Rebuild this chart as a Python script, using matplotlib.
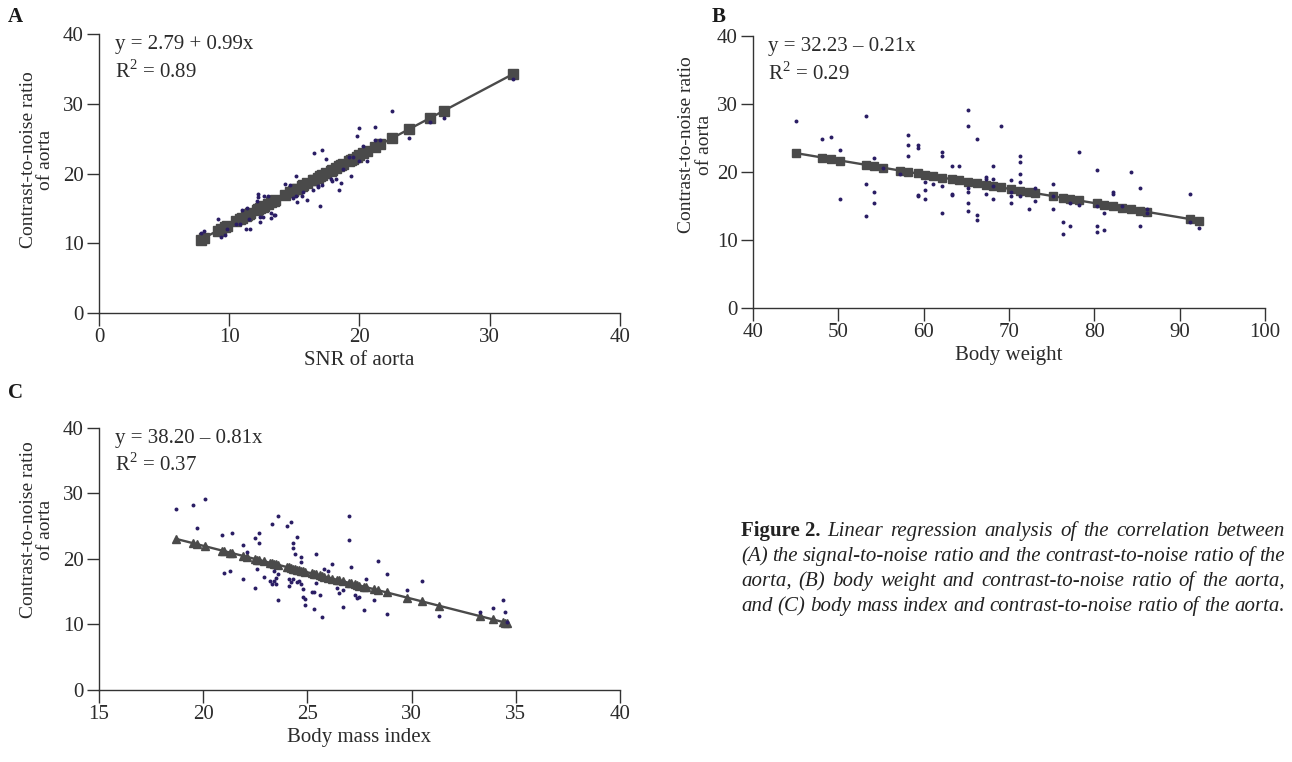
import numpy as np
import matplotlib.pyplot as plt

plt.rcParams['font.family'] = ['Liberation Serif', 'DejaVu Serif']
plt.rcParams['mathtext.fontset'] = 'custom'
plt.rcParams['mathtext.rm'] = 'Liberation Serif'

# ---------------------------------------------------------------
# Data
# ---------------------------------------------------------------
# (A) SNR of aorta vs CNR of aorta
snr_a = [7.8, 8.1, 9.1, 9.4, 9.7, 9.8, 10.5, 10.8, 11.0, 11.3, 11.6, 11.4, 11.5,
         12.2, 12.2, 12.1, 12.4, 12.4, 12.6, 12.7, 13.0, 13.2, 13.4, 13.5, 13.2,
         14.3, 14.7, 15.1, 14.9, 15.1, 15.2, 15.6, 15.7, 16.0, 16.4, 16.8, 17.1,
         16.8, 16.5, 17.1, 17.45, 17.0, 17.8, 17.9, 18.2, 18.6, 18.4, 18.7, 19.35,
         19.2, 19.5, 20.0, 20.6, 19.8, 20.0, 21.2, 21.2, 21.6, 20.3, 22.5, 23.8,
         25.4, 26.5, 31.8]
cnr_a = [11.5, 11.8, 13.5, 10.9, 11.2, 12.0, 12.7, 12.7, 14.7, 12.0, 12.0, 15.0, 13.5,
         17.1, 16.7, 16.0, 13.0, 13.8, 13.8, 16.8, 16.8, 14.4, 14.1, 14.1, 13.6,
         18.5, 18.3, 19.7, 16.5, 16.8, 15.9, 16.8, 17.3, 16.2, 17.7, 18.0, 18.3,
         18.2, 23.0, 23.3, 22.1, 15.3, 19.2, 18.9, 19.2, 18.6, 17.7, 20.7, 19.7,
         22.4, 22.4, 21.8, 21.8, 25.4, 26.5, 26.6, 24.8, 24.8, 23.9, 29.0, 25.1,
         27.4, 28.0, 33.6]
fit_a = (2.79, 0.99)

# (B) Body weight vs CNR of aorta
weight_b = [45.1, 48.1, 49.1, 50.2, 50.2, 53.2, 53.2, 53.2, 54.2, 54.2, 54.2, 55.2,
            57.2, 58.2, 58.2, 58.2, 59.3, 59.3, 59.3, 59.3, 60.1, 60.1, 60.1, 61.1,
            62.2, 62.2, 62.2, 62.2, 63.3, 63.3, 63.3, 64.1, 65.2, 65.2, 65.2, 65.2,
            65.2, 65.2, 66.2, 66.2, 66.2, 67.3, 67.3, 67.3, 68.1, 68.1, 68.1, 68.1,
            69.1, 70.2, 70.2, 70.2, 70.2, 71.3, 71.3, 71.3, 71.3, 71.3, 72.3, 73.1,
            73.1, 75.2, 75.2, 75.2, 76.3, 76.3, 77.1, 77.1, 78.2, 78.2, 80.3, 80.3,
            80.3, 80.3, 81.1, 81.1, 82.2, 82.2, 83.2, 84.3, 85.4, 85.4, 86.2, 86.2,
            91.2, 91.2, 92.3]
cnr_b = [27.5, 24.8, 25.1, 23.3, 16.1, 28.2, 18.2, 13.6, 22.1, 17.0, 15.4, 20.6,
         19.7, 25.5, 23.9, 22.4, 24.0, 23.6, 16.6, 16.4, 18.5, 17.3, 16.1, 18.2,
         23.0, 22.4, 17.9, 13.9, 20.9, 16.8, 16.6, 20.9, 29.1, 26.7, 17.6, 17.0,
         15.4, 14.2, 24.9, 13.7, 13.0, 19.3, 19.0, 16.8, 20.9, 19.0, 18.0, 16.1,
         26.7, 18.8, 17.0, 16.4, 15.5, 22.4, 21.5, 19.7, 18.5, 16.4, 14.5, 15.7,
         17.6, 18.2, 16.4, 14.5, 12.7, 10.9, 15.4, 12.1, 23.0, 15.2, 20.3, 15.0,
         12.1, 11.2, 13.9, 11.4, 17.0, 16.7, 15.0, 20.0, 17.6, 12.1, 13.9, 14.6,
         16.7, 12.7, 11.8]
fit_b = (32.23, -0.21)

# (C) Body mass index vs CNR of aorta
bmi_c = [18.7, 19.5, 20.1, 19.7, 20.9, 21.4, 21.0, 21.3, 21.9, 22.1, 21.9, 22.5,
         22.7, 22.7, 23.3, 23.6, 24.0, 24.2, 24.5, 24.3, 24.3, 24.4, 24.7, 24.7,
         22.6, 22.9, 22.5, 23.4, 23.6, 23.5, 23.2, 23.4, 23.3, 23.5, 23.6, 24.1,
         24.3, 24.2, 24.1, 24.5, 24.6, 24.7, 24.8, 24.8, 24.9, 24.9, 27.0, 27.0,
         25.4, 26.2, 25.8, 26.0, 27.1, 28.4, 28.8, 27.8, 30.5, 29.8, 25.4, 25.2,
         25.3, 26.4, 26.5, 26.7, 25.6, 27.3, 27.4, 27.5, 28.2, 25.3, 26.7, 27.7,
         25.7, 28.8, 31.3, 33.3, 33.9, 34.4, 34.5, 34.6]
cnr_c = [27.6, 28.2, 29.2, 24.7, 23.7, 24.0, 17.9, 18.2, 22.1, 21.1, 16.9, 23.2,
         24.0, 22.4, 25.3, 26.6, 25.0, 25.6, 23.4, 22.4, 21.6, 20.8, 20.3, 19.5,
         18.4, 17.3, 15.6, 18.2, 17.7, 17.1, 16.6, 16.6, 16.1, 16.1, 13.7, 16.9,
         16.9, 16.4, 15.8, 16.4, 16.6, 16.1, 15.4, 14.2, 13.9, 12.9, 26.6, 22.9,
         20.8, 19.2, 18.4, 18.2, 18.7, 19.7, 17.7, 16.9, 16.6, 15.3, 16.3, 15.0,
         15.0, 15.6, 14.8, 15.3, 14.5, 14.5, 14.0, 14.2, 13.7, 12.4, 12.7, 12.2,
         11.1, 11.6, 11.3, 11.9, 12.5, 13.7, 11.9, 10.3]
fit_c = (38.20, -0.81)

panels = [
    dict(x=snr_a, y=cnr_a, fit=fit_a, letter='A', xlabel='SNR of aorta',
         eq='y = 2.79 + 0.99x', r2='0.89', xlim=(0, 40), xticks=[0, 10, 20, 30, 40],
         marker='s', ms=6.5, rect=[0.0766, 0.5892, 0.4033, 0.3662],
         ylab_xy=(-0.086, 0.55), letter_xy=(8, 22)),
    dict(x=weight_b, y=cnr_b, fit=fit_b, letter='B', xlabel='Body weight',
         eq='y = 32.23 \u2013 0.21x', r2='0.29', xlim=(40, 100),
         xticks=[40, 50, 60, 70, 80, 90, 100],
         marker='s', ms=5.4, rect=[0.5828, 0.5958, 0.3963, 0.3570],
         ylab_xy=(-0.078, 0.60), letter_xy=(712, 22)),
    dict(x=bmi_c, y=cnr_c, fit=fit_c, letter='C', xlabel='Body mass index',
         eq='y = 38.20 \u2013 0.81x', r2='0.37', xlim=(15, 40),
         xticks=[15, 20, 25, 30, 35, 40],
         marker='^', ms=5.8, rect=[0.0766, 0.0949, 0.4033, 0.3434],
         ylab_xy=(-0.086, 0.61), letter_xy=(8, 398)),
]

W, H = 1292, 762
fig = plt.figure(figsize=(W / 100, H / 100), dpi=100)

line_col = '#4a4a4a'
dot_col = '#2a1d64'
axis_col = '#333333'
fs = 15

for p in panels:
    ax = fig.add_axes(p['rect'])
    xs = np.array(sorted(set(p['x'])))
    a, b = p['fit']
    ax.plot(xs, a + b * xs, '-', color=line_col, lw=1.7, marker=p['marker'],
            ms=p['ms'], mec=line_col, mfc=line_col, zorder=2)
    ax.scatter(p['x'], p['y'], s=8, color=dot_col, marker='o', lw=0, zorder=3)

    ax.set_xlim(*p['xlim'])
    ax.set_ylim(0, 40)
    ax.set_xticks(p['xticks'])
    ax.set_yticks([0, 10, 20, 30, 40])
    for s in ['top', 'right']:
        ax.spines[s].set_visible(False)
    for s in ['left', 'bottom']:
        ax.spines[s].set_color(axis_col)
        ax.spines[s].set_linewidth(1.0)
    ax.tick_params(direction='out', length=9, width=1.0, color=axis_col,
                   labelsize=fs, labelcolor='#2b2b2b', pad=2)
    ax.set_xlabel(p['xlabel'], fontsize=fs, color='#2b2b2b', labelpad=3)
    ax.set_ylabel('Contrast-to-noise ratio\nof aorta', fontsize=14,
                  color='#2b2b2b', linespacing=1.05)
    ax.yaxis.set_label_coords(*p['ylab_xy'])

    ax.text(0.03, 0.995, p['eq'], transform=ax.transAxes, fontsize=fs,
            va='top', ha='left', color='#2b2b2b')
    ax.text(0.03, 0.905, 'R$^{2}$ = ' + p['r2'], transform=ax.transAxes,
            fontsize=fs, va='top', ha='left', color='#2b2b2b')

    lx, ly = p['letter_xy']
    fig.text(lx / W, 1 - ly / H, p['letter'], fontsize=fs, fontweight='bold',
             va='baseline', ha='left', color='#1a1a1a')

# caption (justified by hand)
caption = [
    [('Figure 2.', 'bold', 'normal')] +
    [(w, 'normal', 'italic') for w in
     'Linear regression analysis of the correlation between'.split()],
    [(w, 'normal', 'italic') for w in
     '(A) the signal-to-noise ratio and the contrast-to-noise ratio of the'.split()],
    [(w, 'normal', 'italic') for w in
     'aorta, (B) body weight and contrast-to-noise ratio of the aorta,'.split()],
    [(w, 'normal', 'italic') for w in
     'and (C) body mass index and contrast-to-noise ratio of the aorta.'.split()],
]
cap_left, cap_right = 741, 1285
cap_base = [536, 561, 586, 611]
cap_fs = 15
renderer = fig.canvas.get_renderer()
for words, base in zip(caption, cap_base):
    arts = []
    widths = []
    for w, wt, st in words:
        t = fig.text(0, 1 - base / H, w, fontsize=cap_fs, fontweight=wt,
                     fontstyle=st, va='baseline', ha='left', color='#222222')
        arts.append(t)
        widths.append(t.get_window_extent(renderer).width)
    gap = (cap_right - cap_left - sum(widths)) / (len(words) - 1)
    gap = max(gap, 3.0)
    xpos = cap_left
    for t, wd in zip(arts, widths):
        t.set_x(xpos / W)
        xpos += wd + gap

fig.savefig('out.png', dpi=100)
